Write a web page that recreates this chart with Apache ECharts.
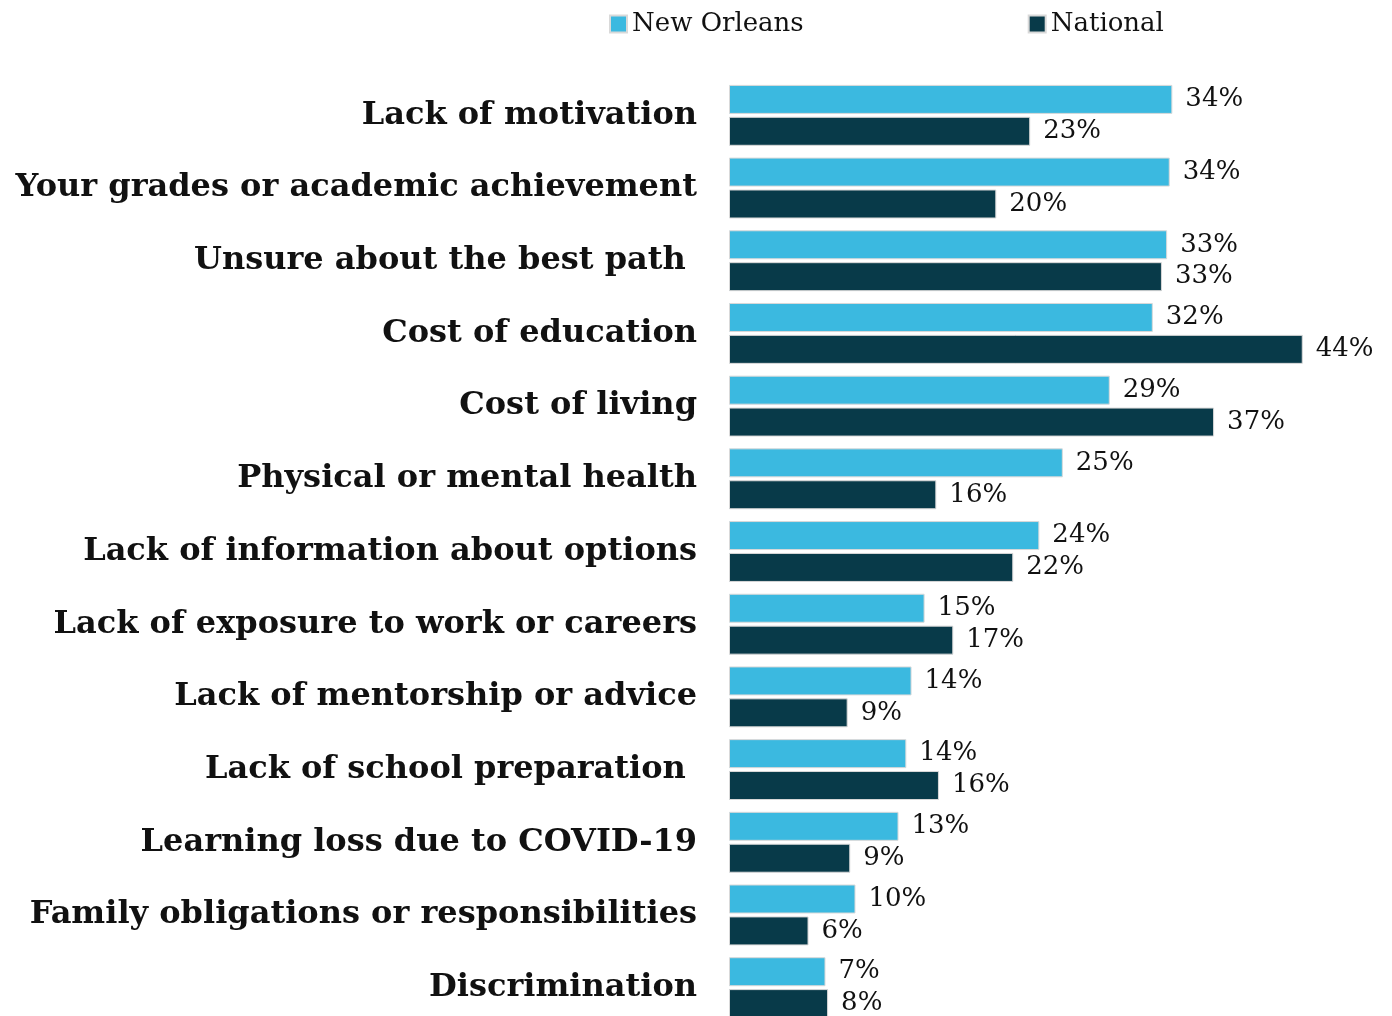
<!DOCTYPE html>
<html><head><meta charset="utf-8">
<script src="https://cdn.jsdelivr.net/npm/echarts@6/dist/echarts.min.js"></script>
<style>html,body{margin:0;padding:0;background:#fff;overflow:hidden}#c{width:1392px;height:1024px}</style>
</head><body><div id="c"></div>
<script>
const categories = ["Lack of motivation","Your grades or academic achievement","Unsure about the best path ","Cost of education","Cost of living","Physical or mental health","Lack of information about options","Lack of exposure to work or careers","Lack of mentorship or advice","Lack of school preparation ","Learning loss due to COVID-19","Family obligations or responsibilities","Discrimination"];
const newOrleans = [34.0,33.8,33.6,32.5,29.2,25.6,23.8,15.0,14.0,13.6,13.0,9.7,7.4];
const national = [23.1,20.5,33.2,44.0,37.2,15.9,21.8,17.2,9.1,16.1,9.3,6.1,7.6];
const newOrleansLabels = ["34%","34%","33%","32%","29%","25%","24%","15%","14%","14%","13%","10%","7%"];
const nationalLabels = ["23%","20%","33%","44%","37%","16%","22%","17%","9%","16%","9%","6%","8%"];

const chart = echarts.init(document.getElementById('c'));
const serif = "'DejaVu Serif', 'Liberation Serif', serif";
chart.setOption({
  animation: false,
  legend: {
    top: 6, left: 604, itemGap: 224, itemWidth: 17, itemHeight: 17, icon: 'rect',
    textStyle: {fontFamily: serif, fontSize: 26, color: '#111'},
    data: ['New Orleans','National']
  },
  grid: {left: 729, right: 11, top: 79, height: 945, containLabel: false},
  xAxis: {type: 'value', min: 0, max: 50, show: false},
  yAxis: {
    type: 'category', data: categories, inverse: true,
    axisLine: {show: false}, axisTick: {show: false},
    axisLabel: {margin: 32, fontFamily: serif, fontWeight: 'bold', fontSize: 32, color: '#111'}
  },
  series: [
    {name: 'New Orleans', type: 'bar', data: newOrleans, barWidth: 29, barGap: '10%',
     itemStyle: {color: '#3BB9E0', borderColor: '#d9d9d9', borderWidth: 1},
     label: {show: true, position: 'right', distance: 13, fontFamily: serif, fontSize: 26, color: '#111',
       formatter: p => newOrleansLabels[p.dataIndex]}},
    {name: 'National', type: 'bar', data: national, barWidth: 29,
     itemStyle: {color: '#083A49', borderColor: '#d9d9d9', borderWidth: 1},
     label: {show: true, position: 'right', distance: 13, fontFamily: serif, fontSize: 26, color: '#111',
       formatter: p => nationalLabels[p.dataIndex]}}
  ]
});
</script></body></html>
